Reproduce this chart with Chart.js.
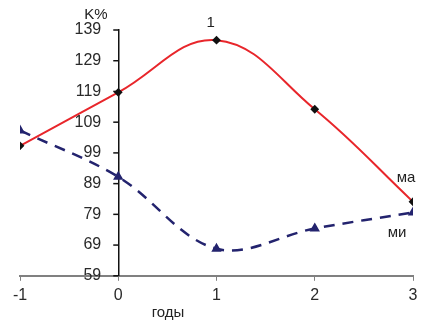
<!DOCTYPE html>
<html>
<head>
<meta charset="utf-8">
<script src="https://cdn.jsdelivr.net/npm/chart.js@4"></script>
<style>
  html, body { margin: 0; padding: 0; background: #fff; }
  #wrap { width: 427px; height: 323px; }
</style>
</head>
<body>
<div id="wrap"><canvas id="chart" width="427" height="323"></canvas></div>
<script>
// years on the x axis
const years = [-1, 0, 1, 2, 3];
// "ма" series (red, solid)
const maValues = [101.3, 118.7, 135.7, 113.2, 83.1];
// "ми" series (navy, dashed)
const miValues = [106.3, 91.2, 67.8, 74.4, 79.6];
// y tick values
const yTicks = [59, 69, 79, 89, 99, 109, 119, 129, 139];

const FONT = "'Liberation Sans', Arial, sans-serif";

/* y tick marks + labels (the centred axis puts them on top of its line, so draw them here)
   plus free text: axis name, series names, "1" over the peak */
const labelsPlugin = {
  id: "labels",
  afterDraw(chart) {
    const c = chart.ctx;
    const x = chart.scales.x;
    const y = chart.scales.y;
    const axisX = x.getPixelForValue(0);
    c.save();
    c.strokeStyle = "#111";
    c.lineWidth = 1.5;
    c.fillStyle = "#2a2a2a";
    c.font = "16px " + FONT;
    c.textBaseline = "middle";
    c.textAlign = "right";
    y.ticks.forEach(t => {
      const py = y.getPixelForValue(t.value);
      c.beginPath();
      c.moveTo(axisX - 5, py);
      c.lineTo(axisX, py);
      c.stroke();
      c.fillText(String(t.value), axisX - 17, py);
    });
    c.fillStyle = "#222";
    c.textAlign = "center";
    c.font = "15px " + FONT;
    c.fillText("K%", 96, 15);
    c.fillText("1", x.getPixelForValue(0.94), 23);
    c.fillText("ма", 406, 178);
    c.fillText("ми", 397, 233);
    c.fillText("годы", 168, 313);
    c.restore();
  }
};

new Chart(document.getElementById("chart"), {
  type: "line",
  data: {
    datasets: [
      {
        label: "ма",
        data: years.map((yr, i) => ({ x: yr, y: maValues[i] })),
        borderColor: "#e8262b",
        borderWidth: 2,
        tension: 0.4,
        pointStyle: "rectRot",
        pointRadius: 3,
        pointBackgroundColor: "#111",
        pointBorderColor: "#111"
      },
      {
        label: "ми",
        data: years.map((yr, i) => ({ x: yr, y: miValues[i] })),
        borderColor: "#23236e",
        borderWidth: 2.5,
        borderDash: [11, 8],
        tension: 0.35,
        pointStyle: "triangle",
        pointRadius: 3.5,
        pointBackgroundColor: "#23236e",
        pointBorderColor: "#23236e"
      }
    ]
  },
  options: {
    responsive: false,
    animation: false,
    layout: { padding: { left: 20, right: 14, top: 30, bottom: 13 } },
    plugins: {
      legend: { display: false },
      tooltip: { enabled: false }
    },
    scales: {
      x: {
        type: "linear",
        min: -1,
        max: 3,
        border: { color: "#808080", width: 2 },
        grid: { drawOnChartArea: false, drawTicks: true, tickLength: 5, color: "#808080" },
        ticks: {
          stepSize: 1,
          color: "#2a2a2a",
          padding: 5,
          font: { family: FONT, size: 16 }
        }
      },
      y: {
        position: { x: 0 },
        min: 59,
        max: 139,
        afterBuildTicks(scale) {
          scale.ticks = yTicks.map(v => ({ value: v }));
        },
        border: { color: "#111", width: 1.5 },
        grid: { drawOnChartArea: false, drawTicks: false, color: "rgba(0,0,0,0)" },
        ticks: { display: false }
      }
    }
  },
  plugins: [labelsPlugin]
});
</script>
</body>
</html>
